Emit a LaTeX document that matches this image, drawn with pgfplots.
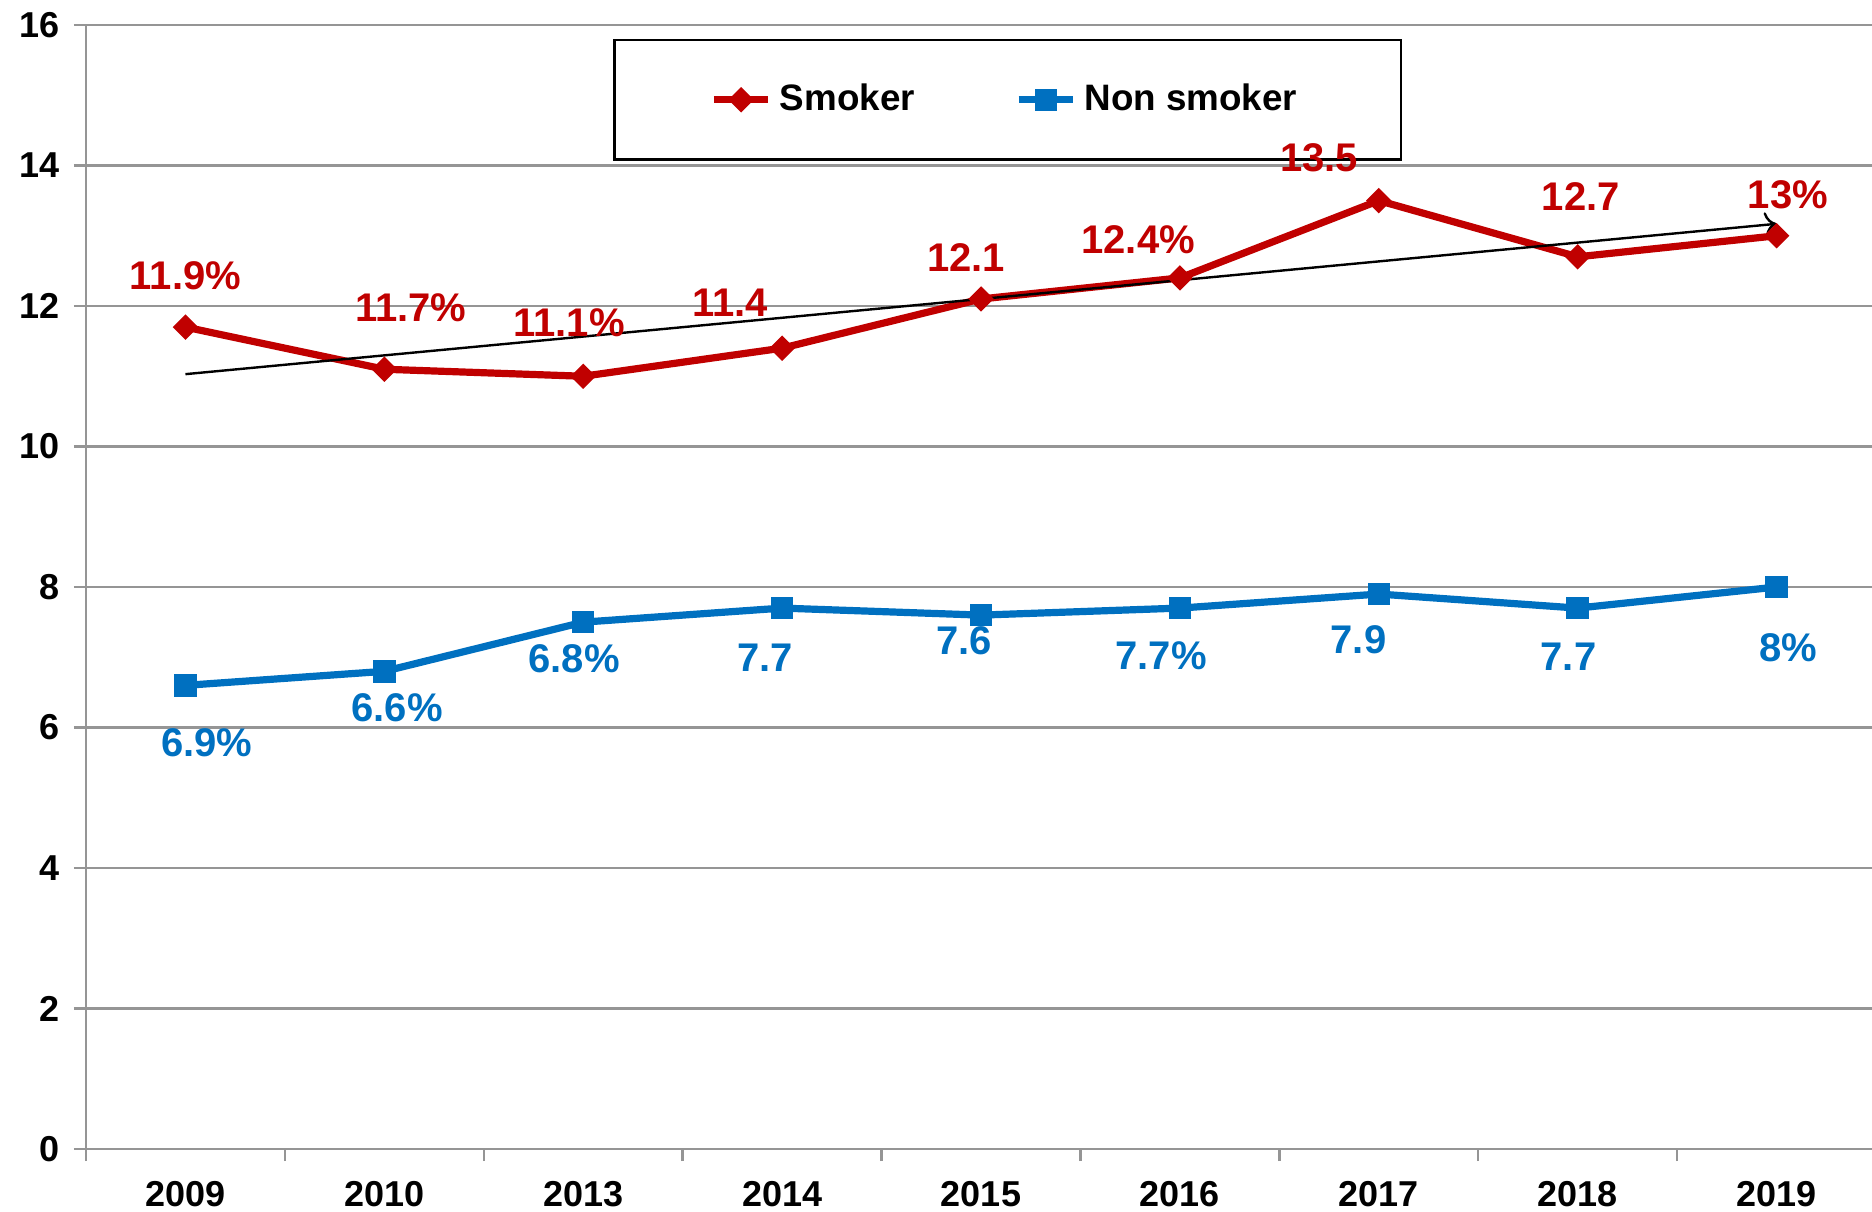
\documentclass[border=0pt]{standalone}
\usepackage{fontspec}
\setmainfont{Liberation Sans}
\usepackage{pgfplots}
\pgfplotsset{compat=1.18}
\usetikzlibrary{arrows.meta}

\definecolor{smk}{HTML}{C00000}
\definecolor{nsmk}{HTML}{0070C0}
\definecolor{gridg}{HTML}{959595}

\newcommand{\lblfont}{\bfseries\fontsize{10}{12}\selectfont}

\begin{document}
\begin{tikzpicture}
\begin{axis}[
  width=447.5pt, height=281pt, scale only axis,
  xmin=-0.5, xmax=8.5, ymin=0, ymax=16,
  axis x line*=bottom, axis y line*=left,
  axis line style={gridg, line width=0.6pt},
  xtick={0,...,8},
  xticklabels={2009,2010,2013,2014,2015,2016,2017,2018,2019},
  minor xtick={-0.5,0.5,...,8.5},
  major x tick style={draw=none},
  minor x tick style={gridg, line width=0.6pt},
  minor tick length=3pt,
  ytick={0,2,...,16},
  y tick style={gridg, line width=0.6pt},
  major tick length=3pt,
  tick align=outside,
  ymajorgrids,
  major grid style={gridg, line width=0.6pt},
  /pgf/number format/assume math mode=true,
  tick label style={font=\bfseries\fontsize{9}{10}\selectfont, black},
  xticklabel style={yshift=-1.6pt},
  legend columns=2,
  legend style={at={(rel axis cs:0.2945,0.9875)}, anchor=north west,
    draw=black, line width=0.6pt, inner xsep=24pt, inner ysep=8.8pt,
    font=\bfseries\fontsize{9.2}{10}\selectfont,
    /tikz/every odd column/.append style={inner xsep=1pt},
    /tikz/every even column/.append style={column sep=23pt}},
  legend image code/.code={\draw[mark repeat=2, mark phase=2]
    plot coordinates {(0pt,0pt) (6.8pt,0pt) (13.6pt,0pt)};},
]
\coordinate (sw) at (rel axis cs:0,0);
\coordinate (ne) at (rel axis cs:1,1);

\addplot[smk, line width=1.8pt, mark=square*, mark size=2.05pt,
  mark options={rotate=45, line width=0.4pt, solid}] coordinates {
  (0,11.7) (1,11.1) (2,11.0) (3,11.4) (4,12.1) (5,12.4) (6,13.5) (7,12.7) (8,13.0)
};
\addlegendentry{Smoker}

\addplot[nsmk, line width=1.8pt, mark=square*, mark size=2.6pt,
  mark options={line width=0.4pt, solid}] coordinates {
  (0,6.6) (1,6.8) (2,7.5) (3,7.7) (4,7.6) (5,7.7) (6,7.9) (7,7.7) (8,8.0)
};
\addlegendentry{Non smoker}

% trend arrow
\addplot[black, line width=0.6pt, -{To[length=3pt]}, forget plot] coordinates {
  (0,11.03) (8.0,13.17)
};

% smoker labels
\node[smk, font=\lblfont] at (axis cs:0.0,12.43)   {11.9\%};
\node[smk, font=\lblfont] at (axis cs:1.133,11.97) {11.7\%};
\node[smk, font=\lblfont] at (axis cs:1.929,11.76) {11.1\%};
\node[smk, font=\lblfont] at (axis cs:2.738,12.04) {11.4};
\node[smk, font=\lblfont] at (axis cs:3.925,12.69) {12.1};
\node[smk, font=\lblfont] at (axis cs:4.79,12.94)  {12.4\%};
\coordinate (l135) at (axis cs:5.70,14.11);
\node[smk, font=\lblfont] at (axis cs:7.016,13.56) {12.7};
\node[smk, font=\lblfont] at (axis cs:8.057,13.59) {13\%};

% non smoker labels
\node[nsmk, font=\lblfont] at (axis cs:0.107,5.78) {6.9\%};
\node[nsmk, font=\lblfont] at (axis cs:1.064,6.28) {6.6\%};
\node[nsmk, font=\lblfont] at (axis cs:1.954,6.98) {6.8\%};
\node[nsmk, font=\lblfont] at (axis cs:2.914,7.00) {7.7};
\node[nsmk, font=\lblfont] at (axis cs:3.914,7.23) {7.6};
\node[nsmk, font=\lblfont] at (axis cs:4.905,7.02) {7.7\%};
\node[nsmk, font=\lblfont] at (axis cs:5.898,7.25) {7.9};
\node[nsmk, font=\lblfont] at (axis cs:6.954,7.01) {7.7};
\node[nsmk, font=\lblfont] at (axis cs:8.06,7.13)  {8\%};
\end{axis}
% label overlapping the legend box, drawn on top of it
\node[smk, font=\lblfont] at (l135) {13.5};
\pgfresetboundingbox
\path ([shift={(-21.5pt,-15.5pt)}]sw) rectangle ([shift={(-1pt,6.25pt)}]ne);
\end{tikzpicture}
\end{document}
